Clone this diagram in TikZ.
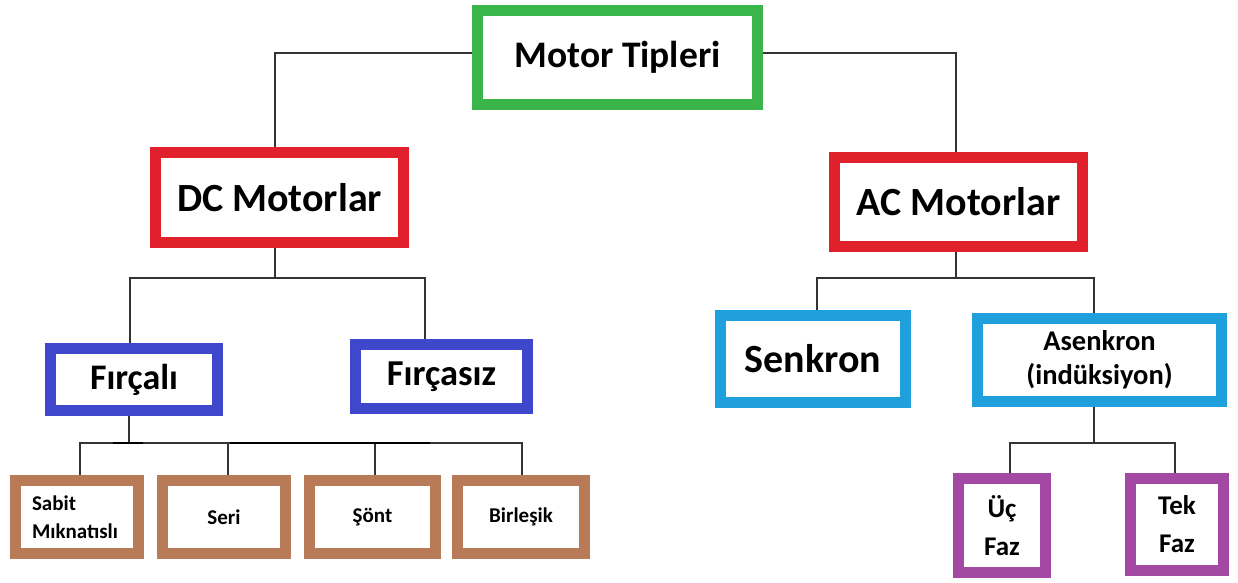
\documentclass[tikz,border=0pt]{standalone}
\usepackage{fontspec}
\setmainfont{Carlito}
\definecolor{cgreen}{HTML}{3AB54A}
\definecolor{cred}{HTML}{E0202A}
\definecolor{cblue}{HTML}{3F48CC}
\definecolor{clblue}{HTML}{1FA0DC}
\definecolor{cbrown}{HTML}{B97A57}
\definecolor{cpurple}{HTML}{A349A4}
\definecolor{cline}{HTML}{333333}
\tikzset{
  box/.style={draw, rectangle, line width=11pt, fill=white, inner sep=0pt, align=center},
  brownbox/.style={box, draw=cbrown, line width=11pt},
  conn/.style={draw=cline, line width=1.4pt},
  thick conn/.style={draw=black, line width=2.6pt}
}
\newcommand{\bx}[9]{% name, x1, y1, x2, y2, style, font size, baseline, text
  \node[box, #6, font=\fontsize{#7}{#8}\selectfont\bfseries, minimum width={#4-#2-11}, minimum height={#5-#3-11}] (#1) at ({(#2+#4)/2},{(#3+#5)/2}) {#9};}
\begin{document}
\begin{tikzpicture}[x=1pt,y=-1pt]
\useasboundingbox[fill=white] (0,0) rectangle (1238,582);
\coordinate (c1) at (275,53);
\coordinate (c2) at (956,53);
\coordinate (d0) at (275,278);
\coordinate (dl) at (130,278);
\coordinate (dr) at (425,278);
\coordinate (a0) at (956,278);
\coordinate (al) at (817,278);
\coordinate (ar) at (1094,278);
\coordinate (f0) at (129,443);
\coordinate (b1) at (80,443);
\coordinate (b2) at (228,443);
\coordinate (b3) at (375,443);
\coordinate (b4) at (522,443);
\coordinate (s0) at (1094,443);
\coordinate (sl) at (1010,443);
\coordinate (sq) at (1175,443);
\coordinate (t1) at (113,443);
\coordinate (t2) at (143,443);
\coordinate (t3) at (230,443);
\coordinate (t4) at (430,443);

\bx{top}{472}{5}{763}{110}{draw=cgreen}{37.5}{44}{Motor Tipleri}
\bx{dc}{150}{147}{409}{248}{draw=cred}{40}{46}{DC Motorlar}
\bx{ac}{829}{152}{1088}{252}{draw=cred}{40}{46}{AC Motorlar}
\bx{fb}{45}{343}{223}{416}{draw=cblue}{36}{42}{Fırçalı}
\bx{fs}{350}{339}{533}{414}{draw=cblue}{36.5}{42}{Fırçasız}
\bx{sk}{715}{310}{911}{408}{draw=clblue}{40}{46}{Senkron}
\bx{ask}{972}{313}{1227}{407}{draw=clblue}{28.5}{34}{Asenkron\\(indüksiyon)}
\bx{uc}{953}{473}{1051}{578}{draw=cpurple}{27}{38}{Üç\\Faz}
\bx{tk}{1125}{473}{1229}{576}{draw=cpurple}{27}{38}{Tek\\Faz}
\bx{sm}{10}{475}{144}{559}{brownbox,align=left,text width=90pt}{21}{28}{Sabit\\Mıknatıslı}
\bx{se}{157}{475}{291}{559}{brownbox}{21}{26}{Seri}
\bx{so}{304}{475}{441}{559}{brownbox}{21}{26}{Şönt}
\bx{bi}{452}{475}{590}{559}{brownbox}{21}{26}{Birleşik}

\path[conn] (top.west |- c1) -- (c1) -- (dc.north -| c1);
\path[conn] (top.east |- c2) -- (c2) -- (ac.north -| c2);
\path[conn] (dc.south -| d0) -- (d0);
\path[conn] (fb.north -| dl) -- (dl) -- (dr) -- (fs.north -| dr);
\path[conn] (ac.south -| a0) -- (a0);
\path[conn] (sk.north -| al) -- (al) -- (ar) -- (ask.north -| ar);
\path[conn] (fb.south -| f0) -- (f0);
\path[conn] (sm.north -| b1) -- (b1) -- (b4) -- (bi.north -| b4);
\path[conn] (b2) -- (se.north -| b2);
\path[conn] (b3) -- (so.north -| b3);
\path[thick conn] (t1) -- (t2);
\path[thick conn] (t3) -- (t4);
\path[conn] (ask.south -| s0) -- (s0);
\path[conn] (uc.north -| sl) -- (sl) -- (sq) -- (tk.north -| sq);
\end{tikzpicture}
\end{document}
